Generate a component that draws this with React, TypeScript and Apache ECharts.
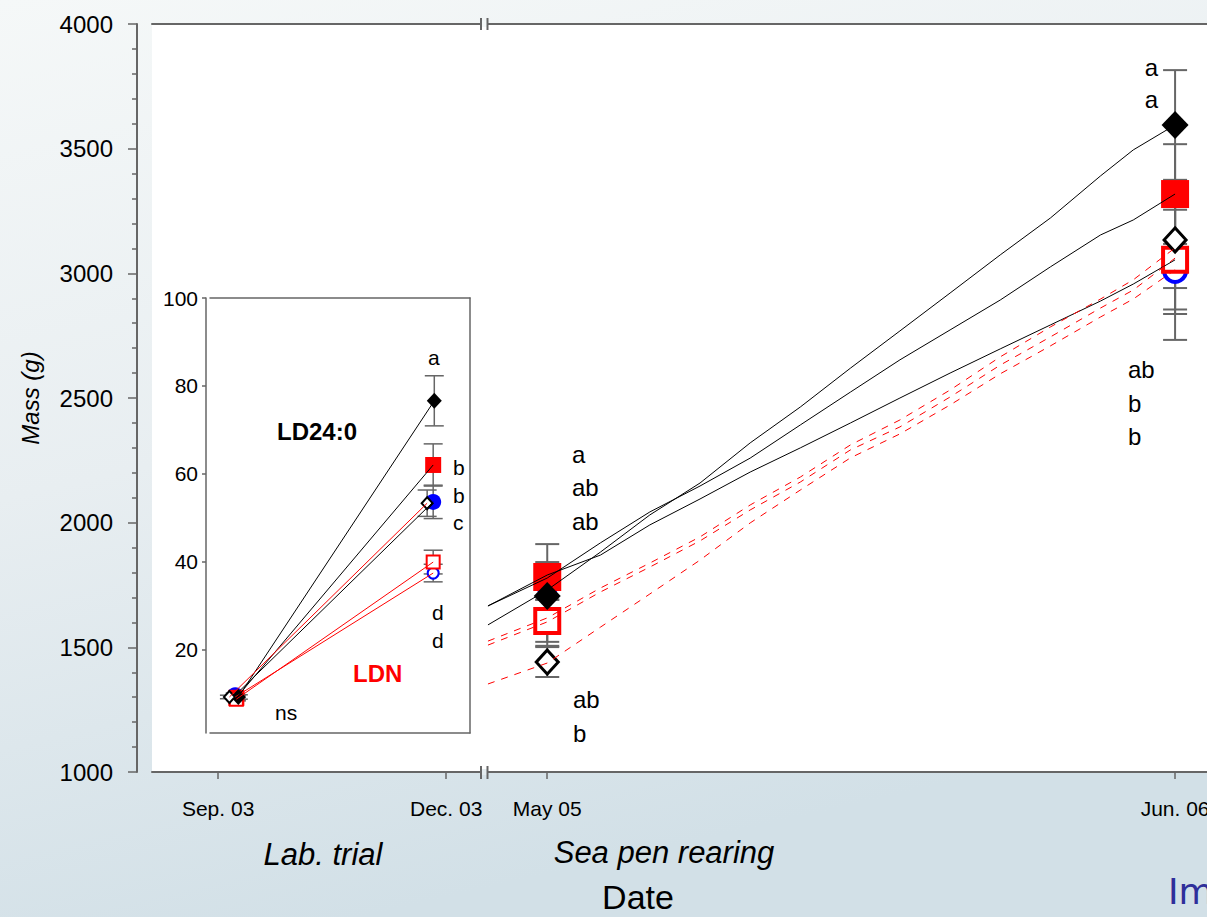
import React, { useEffect, useRef } from "react";
import * as echarts from "echarts";

const FONT = "'Liberation Sans', Arial, Helvetica, sans-serif";

// ---------------- main panel: Mass (g) ----------------
const xTickValues = [0, 3, 4.33, 12.59];
const xTickLabels = ["Sep. 03", "Dec. 03", "May 05", "Jun. 06"];
const xMin = -0.87;
const xMax = 13.01;

// growth curves during sea-pen rearing (plot position, g)
const curveX = [3.55, 4.33, 5.03, 5.68, 6.34, 7.0, 7.66, 8.32, 8.97, 9.63, 10.29, 10.95, 11.61, 12.04, 12.59];
const curveLD24Diamond = [1590, 1730, 1882, 2031, 2159, 2320, 2464, 2620, 2769, 2921, 3074, 3222, 3391, 3495, 3595];
const curveLD24Square = [1666, 1778, 1919, 2043, 2147, 2259, 2392, 2524, 2653, 2773, 2893, 3026, 3154, 3214, 3318];
const curveLD24Circle = [1666, 1790, 1870, 1991, 2095, 2203, 2300, 2400, 2500, 2600, 2697, 2793, 2889, 2957, 3054];
const curveLDNDiamond = [1525, 1618, 1738, 1838, 1943, 2071, 2183, 2312, 2412, 2532, 2665, 2785, 2897, 2974, 3102];
const curveLDNSquare = [1509, 1602, 1722, 1822, 1927, 2051, 2163, 2292, 2384, 2504, 2632, 2745, 2861, 2933, 3061];
const curveLDNCircle = [1353, 1437, 1581, 1714, 1850, 1999, 2131, 2260, 2356, 2472, 2597, 2709, 2825, 2897, 3014];

// means and SE at May 05 and Jun. 06
const seaX = [4.33, 12.59];
const meanFilledDiamond = [1706, 3595];
const seFilledDiamond = [136, 220];
const meanFilledSquare = [1782, 3318];
const seFilledSquare = [132, 200];
const meanFilledCircle = [1752, 3055];
const seFilledCircle = [60, 200];
const meanOpenDiamond = [1441, 3134];
const seOpenDiamond = [60, 193];
const meanOpenSquare = [1606, 3054];
const seOpenSquare = [84, 217];
const meanOpenCircle = [1606, 3010];
const seOpenCircle = [100, 277];

// ---------------- inset: lab trial ----------------
const insetXMin = -10;
const insetXMax = 106.5;
const insetYTicks = [20, 40, 60, 80, 100];
const insetXFilledDiamond = [2.7, 90.5];
const insetMeanFilledDiamond = [9.2, 76.6];
const insetSeFilledDiamond = [0.5, 5.7];
const insetXFilledSquare = [1.8, 90];
const insetMeanFilledSquare = [9.0, 62.0];
const insetSeFilledSquare = [0.5, 4.8];
const insetXFilledCircle = [1.3, 90];
const insetMeanFilledCircle = [9.6, 53.6];
const insetSeFilledCircle = [0.5, 3.8];
const insetXOpenDiamond = [-1.3, 87.3];
const insetMeanOpenDiamond = [9.2, 53.3];
const insetSeOpenDiamond = [0.4, 3.0];
const insetXOpenSquare = [1.8, 90];
const insetMeanOpenSquare = [8.7, 39.9];
const insetSeOpenSquare = [0.4, 2.7];
const insetXOpenCircle = [1.3, 90];
const insetMeanOpenCircle = [9.2, 37.4];
const insetSeOpenCircle = [0.4, 2.0];

const AX = "#666666";

function errRender(capW: number, stroke: string, lw: number) {
  return (params: any, api: any) => {
    const x = api.value(0);
    const m = api.value(1);
    const e = api.value(2);
    const p1 = api.coord([x, m + e]);
    const p2 = api.coord([x, m - e]);
    const h = capW / 2;
    const st = { stroke, lineWidth: lw };
    return {
      type: "group",
      children: [
        { type: "line", shape: { x1: p1[0], y1: p1[1], x2: p2[0], y2: p2[1] }, style: st },
        { type: "line", shape: { x1: p1[0] - h, y1: p1[1], x2: p1[0] + h, y2: p1[1] }, style: st },
        { type: "line", shape: { x1: p2[0] - h, y1: p2[1], x2: p2[0] + h, y2: p2[1] }, style: st },
      ],
    };
  };
}

export default function App() {
  const ref = useRef<HTMLDivElement>(null);
  useEffect(() => {
    document.body.style.margin = "0";
    const chart = echarts.init(ref.current!, undefined, { renderer: "svg", width: 1207, height: 917 });

    const markerDefs = [
      { name: "LD24 circle", x: seaX, mean: meanFilledCircle, se: seFilledCircle, ix: insetXFilledCircle, im: insetMeanFilledCircle, ise: insetSeFilledCircle, symbol: "circle", size: 24, isize: 16, item: { color: "#0000ff" }, iitem: { color: "#0000ff" } },
      { name: "LDN circle", x: seaX, mean: meanOpenCircle, se: seOpenCircle, ix: insetXOpenCircle, im: insetMeanOpenCircle, ise: insetSeOpenCircle, symbol: "circle", size: 22, isize: 11, item: { color: "#ffffff", borderColor: "#0000ff", borderWidth: 4 }, iitem: { color: "#ffffff", borderColor: "#0000ff", borderWidth: 2 } },
      { name: "LD24 square", x: seaX, mean: meanFilledSquare, se: seFilledSquare, ix: insetXFilledSquare, im: insetMeanFilledSquare, ise: insetSeFilledSquare, symbol: "rect", size: 28, isize: 16, item: { color: "#ff0000" }, iitem: { color: "#ff0000" } },
      { name: "LDN square", x: seaX, mean: meanOpenSquare, se: seOpenSquare, ix: insetXOpenSquare, im: insetMeanOpenSquare, ise: insetSeOpenSquare, symbol: "rect", size: 24, isize: 13, item: { color: "#ffffff", borderColor: "#ff0000", borderWidth: 4 }, iitem: { color: "#ffffff", borderColor: "#ff0000", borderWidth: 2 } },
      { name: "LD24 diamond", x: seaX, mean: meanFilledDiamond, se: seFilledDiamond, ix: insetXFilledDiamond, im: insetMeanFilledDiamond, ise: insetSeFilledDiamond, symbol: "diamond", size: [27, 28], isize: [15, 16], item: { color: "#000000" }, iitem: { color: "#000000" } },
      { name: "LDN diamond", x: seaX, mean: meanOpenDiamond, se: seOpenDiamond, ix: insetXOpenDiamond, im: insetMeanOpenDiamond, ise: insetSeOpenDiamond, symbol: "diamond", size: [22, 24], isize: [11, 12], item: { color: "#ffffff", borderColor: "#000000", borderWidth: 3 }, iitem: { color: "#ffffff", borderColor: "#000000", borderWidth: 2 } },
    ];

    const curves = [
      { d: curveLD24Diamond, c: "#000000", t: "solid" },
      { d: curveLD24Square, c: "#000000", t: "solid" },
      { d: curveLD24Circle, c: "#000000", t: "solid" },
      { d: curveLDNDiamond, c: "#ff0000", t: [7, 7] },
      { d: curveLDNSquare, c: "#ff0000", t: [7, 7] },
      { d: curveLDNCircle, c: "#ff0000", t: [7, 7] },
    ];

    const series: any[] = [];
    curves.forEach((cv, k) => {
      series.push({
        type: "line", name: "curve" + k, xAxisIndex: 0, yAxisIndex: 0, silent: true,
        data: curveX.map((x, i) => [x, cv.d[i]]), symbol: "none",
        lineStyle: { color: cv.c, width: 1, type: cv.t },
      });
    });
    // inset lines
    markerDefs.forEach((m) => {
      const isLD24 = m.name.startsWith("LD24");
      series.push({
        type: "line", xAxisIndex: 2, yAxisIndex: 1, silent: true, symbol: "none",
        data: m.ix.map((x, i) => [x, m.im[i]]),
        lineStyle: { color: isLD24 ? "#000000" : "#ff0000", width: 1 },
      });
    });
    // error bars
    const mainErr: number[][] = [];
    const insetErr: number[][] = [];
    markerDefs.forEach((m) => {
      m.x.forEach((x, i) => mainErr.push([x, m.mean[i], m.se[i]]));
      m.ix.forEach((x, i) => insetErr.push([x, m.im[i], m.ise[i]]));
    });
    series.push({ type: "custom", xAxisIndex: 0, yAxisIndex: 0, silent: true, data: mainErr, encode: { x: 0, y: 1 }, renderItem: errRender(24, AX, 2) });
    series.push({ type: "custom", xAxisIndex: 2, yAxisIndex: 1, silent: true, data: insetErr, encode: { x: 0, y: 1 }, renderItem: errRender(19, AX, 1.5) });
    // markers
    markerDefs.forEach((m) => {
      series.push({
        type: "scatter", name: m.name, xAxisIndex: 0, yAxisIndex: 0, silent: true,
        symbol: m.symbol, symbolSize: m.size, itemStyle: { ...m.item, opacity: 1 },
        data: m.x.map((x, i) => [x, m.mean[i]]),
      });
      series.push({
        type: "scatter", name: m.name + " inset", xAxisIndex: 2, yAxisIndex: 1, silent: true,
        symbol: m.symbol, symbolSize: m.isize, itemStyle: { ...m.iitem, opacity: 1 },
        data: m.ix.map((x, i) => [x, m.im[i]]),
      });
    });

    const txt = (text: string, x: number, y: number, fontSize: number, opts: any = {}) => ({
      type: "text", x, y, silent: true, z: 100,
      style: { text, fontSize, fontFamily: FONT, fill: "#000", align: "left", verticalAlign: "middle", ...opts },
    });

    const graphics: any[] = [
      // axis breaks
      { type: "rect", shape: { x: 482, y: 21, width: 5, height: 6 }, style: { fill: "#f4f8f8" }, z: 50 },
      { type: "rect", shape: { x: 482, y: 769, width: 5, height: 6 }, style: { fill: "#e4ecef" }, z: 50 },
      { type: "line", shape: { x1: 481, y1: 18, x2: 481, y2: 30 }, style: { stroke: AX, lineWidth: 2 }, z: 51 },
      { type: "line", shape: { x1: 487.5, y1: 18, x2: 487.5, y2: 30 }, style: { stroke: AX, lineWidth: 2 }, z: 51 },
      { type: "line", shape: { x1: 481, y1: 766, x2: 481, y2: 779 }, style: { stroke: AX, lineWidth: 2 }, z: 51 },
      { type: "line", shape: { x1: 487.5, y1: 766, x2: 487.5, y2: 779 }, style: { stroke: AX, lineWidth: 2 }, z: 51 },
      // axis titles
      { type: "text", x: 30, y: 398, rotation: Math.PI / 2, silent: true, style: { text: "Mass (g)", fontSize: 24, fontStyle: "italic", fontFamily: FONT, fill: "#000", align: "center", verticalAlign: "middle" } },
      txt("Lab. trial", 323, 854, 31, { align: "center", fontStyle: "italic" }),
      txt("Sea pen rearing", 664, 852, 31, { align: "center", fontStyle: "italic" }),
      txt("Date", 638, 897, 34, { align: "center" }),
      txt("Im", 1168, 891, 36, { fill: "#2f2f9a", fontFamily: "'DejaVu Sans', sans-serif" }),
      // main significance letters
      txt("a", 1158, 67.6, 24, { align: "right" }),
      txt("a", 1158, 99.6, 24, { align: "right" }),
      txt("ab", 1128, 369.6, 24),
      txt("b", 1128, 403.6, 24),
      txt("b", 1128, 436.6, 24),
      txt("a", 572, 454, 24),
      txt("ab", 572, 487.6, 24),
      txt("ab", 572, 521.6, 24),
      txt("ab", 573, 699.6, 24),
      txt("b", 573, 733.6, 24),
      // inset letters
      txt("a", 428, 357.6, 21),
      txt("b", 453, 467.6, 21),
      txt("b", 453, 495.6, 21),
      txt("c", 453, 522.6, 21),
      txt("d", 432, 612.6, 21),
      txt("d", 432, 640.6, 21),
      txt("ns", 275, 712.6, 21),
      txt("LD24:0", 277, 431.6, 24, { fontWeight: "bold" }),
      txt("LDN", 353, 673.6, 24, { fontWeight: "bold", fill: "#ff0000" }),
    ];

    const labelFor = (v: number) => {
      const i = xTickValues.findIndex((t) => Math.abs(t - v) < 1e-6);
      return i >= 0 ? xTickLabels[i] : "";
    };

    const option: any = {
      animation: false,
      backgroundColor: {
        type: "linear", x: 0, y: 0, x2: 0.3, y2: 1,
        colorStops: [
          { offset: 0, color: "#f5f8f8" },
          { offset: 0.5, color: "#e8eef1" },
          { offset: 1, color: "#d2e0e7" },
        ],
      },
      grid: [
        { left: 152, top: 24, width: 1055, height: 748, show: true, backgroundColor: "#ffffff", borderWidth: 0, outerBoundsMode: "none", containLabel: false },
        { left: 210, top: 298, width: 260, height: 435, show: true, backgroundColor: "#ffffff", borderWidth: 0, outerBoundsMode: "none", containLabel: false },
      ],
      xAxis: [
        {
          gridIndex: 0, type: "value", min: xMin, max: xMax, position: "bottom",
          axisLine: { show: true, onZero: false, lineStyle: { color: AX, width: 2 } },
          axisTick: { show: true, customValues: xTickValues, length: 7, lineStyle: { color: AX, width: 1.5 } },
          axisLabel: { show: true, customValues: xTickValues, formatter: labelFor, fontSize: 21, color: "#000", margin: 26, fontFamily: FONT },
          splitLine: { show: false },
        },
        {
          gridIndex: 0, type: "value", min: xMin, max: xMax, position: "top",
          axisLine: { show: true, onZero: false, lineStyle: { color: AX, width: 2 } },
          axisTick: { show: false }, axisLabel: { show: false }, splitLine: { show: false },
        },
        {
          gridIndex: 1, type: "value", min: insetXMin, max: insetXMax, position: "bottom",
          axisLine: { show: true, onZero: false, lineStyle: { color: AX, width: 1.5 } },
          axisTick: { show: false }, axisLabel: { show: false }, splitLine: { show: false },
        },
        {
          gridIndex: 1, type: "value", min: insetXMin, max: insetXMax, position: "top",
          axisLine: { show: true, onZero: false, lineStyle: { color: AX, width: 1.5 } },
          axisTick: { show: false }, axisLabel: { show: false }, splitLine: { show: false },
        },
      ],
      yAxis: [
        {
          gridIndex: 0, type: "value", min: 1000, max: 4000, interval: 500, offset: 15, position: "left",
          axisLine: { show: true, onZero: false, lineStyle: { color: AX, width: 2 } },
          axisTick: { show: true, length: 9, lineStyle: { color: AX, width: 1.5 } },
          minorTick: { show: true, splitNumber: 5, length: 5, lineStyle: { color: AX, width: 1.5 } },
          axisLabel: { fontSize: 24, color: "#000", margin: 24, fontFamily: FONT, formatter: (v: number) => String(v) },
          splitLine: { show: false }, minorSplitLine: { show: false },
        },
        {
          gridIndex: 1, type: "value", min: 1, max: 100, offset: 4, position: "left",
          axisLine: { show: true, onZero: false, lineStyle: { color: AX, width: 1.5 } },
          axisTick: { show: true, customValues: insetYTicks, length: 4, lineStyle: { color: AX, width: 1.5 } },
          axisLabel: { show: true, customValues: insetYTicks, fontSize: 21, color: "#000", margin: 8, fontFamily: FONT, formatter: (v: number) => String(v) },
          splitLine: { show: false },
        },
        {
          gridIndex: 1, type: "value", min: 1, max: 100, position: "right",
          axisLine: { show: true, onZero: false, lineStyle: { color: AX, width: 1.5 } },
          axisTick: { show: false }, axisLabel: { show: false }, splitLine: { show: false },
        },
      ],
      series,
      graphic: graphics,
    };
    chart.setOption(option);
    return () => chart.dispose();
  }, []);
  return <div ref={ref} style={{ position: "absolute", left: 0, top: 0, width: 1207, height: 917 }} />;
}
